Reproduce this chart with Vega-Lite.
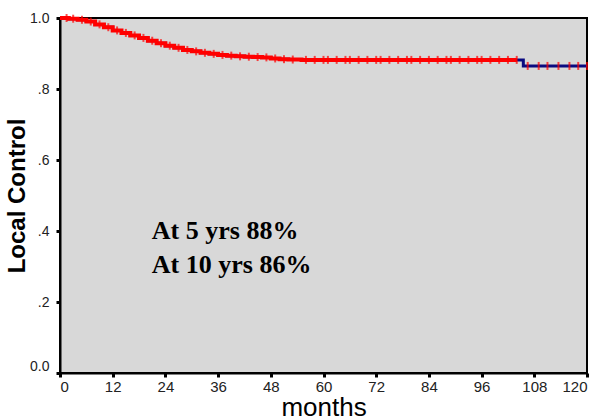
{
  "$schema": "https://vega.github.io/schema/vega-lite/v6.json",
  "width": 527,
  "height": 355,
  "autosize": {"type": "none"},
  "padding": {"left": 60, "top": 18, "right": 16, "bottom": 47},
  "background": "white",
  "config": {
    "view": {"fill": "#d8d8d8", "stroke": "black", "strokeWidth": 2},
    "font": "Liberation Sans"
  },
  "datasets": {
    "km": [
      {"month": 0, "surv": 1.0, "c": 0},
      {"month": 1.5, "surv": 1.0, "c": 1},
      {"month": 2, "surv": 0.998, "c": 0},
      {"month": 3, "surv": 0.998, "c": 1},
      {"month": 4, "surv": 0.995, "c": 0},
      {"month": 5, "surv": 0.995, "c": 1},
      {"month": 6, "surv": 0.99, "c": 0},
      {"month": 7, "surv": 0.99, "c": 1},
      {"month": 8, "surv": 0.982, "c": 0},
      {"month": 9, "surv": 0.982, "c": 1},
      {"month": 10, "surv": 0.974, "c": 0},
      {"month": 11, "surv": 0.974, "c": 1},
      {"month": 12, "surv": 0.965, "c": 0},
      {"month": 13, "surv": 0.965, "c": 1},
      {"month": 14, "surv": 0.958, "c": 0},
      {"month": 15, "surv": 0.958, "c": 1},
      {"month": 16, "surv": 0.951, "c": 0},
      {"month": 17, "surv": 0.951, "c": 1},
      {"month": 18, "surv": 0.944, "c": 0},
      {"month": 19, "surv": 0.944, "c": 1},
      {"month": 20, "surv": 0.936, "c": 0},
      {"month": 21, "surv": 0.936, "c": 1},
      {"month": 22, "surv": 0.929, "c": 0},
      {"month": 23, "surv": 0.929, "c": 1},
      {"month": 24, "surv": 0.922, "c": 0},
      {"month": 25, "surv": 0.922, "c": 1},
      {"month": 26, "surv": 0.916, "c": 0},
      {"month": 27, "surv": 0.916, "c": 1},
      {"month": 28, "surv": 0.91, "c": 0},
      {"month": 29, "surv": 0.91, "c": 1},
      {"month": 30, "surv": 0.906, "c": 0},
      {"month": 31, "surv": 0.906, "c": 1},
      {"month": 32, "surv": 0.902, "c": 0},
      {"month": 33, "surv": 0.902, "c": 1},
      {"month": 34, "surv": 0.899, "c": 0},
      {"month": 35, "surv": 0.899, "c": 1},
      {"month": 36, "surv": 0.896, "c": 0},
      {"month": 37, "surv": 0.896, "c": 1},
      {"month": 38, "surv": 0.894, "c": 0},
      {"month": 39, "surv": 0.894, "c": 1},
      {"month": 40, "surv": 0.892, "c": 0},
      {"month": 41, "surv": 0.892, "c": 1},
      {"month": 42, "surv": 0.891, "c": 0},
      {"month": 43, "surv": 0.891, "c": 1},
      {"month": 44, "surv": 0.89, "c": 0},
      {"month": 45, "surv": 0.89, "c": 1},
      {"month": 46, "surv": 0.889, "c": 0},
      {"month": 47, "surv": 0.889, "c": 1},
      {"month": 48, "surv": 0.886, "c": 0},
      {"month": 49, "surv": 0.886, "c": 1},
      {"month": 50, "surv": 0.884, "c": 0},
      {"month": 51, "surv": 0.884, "c": 1},
      {"month": 52, "surv": 0.883, "c": 0},
      {"month": 53, "surv": 0.883, "c": 1},
      {"month": 55, "surv": 0.882, "c": 0},
      {"month": 56, "surv": 0.882, "c": 1},
      {"month": 58, "surv": 0.882, "c": 1},
      {"month": 60, "surv": 0.882, "c": 1},
      {"month": 61, "surv": 0.882, "c": 1},
      {"month": 63, "surv": 0.882, "c": 1},
      {"month": 65, "surv": 0.882, "c": 1},
      {"month": 66, "surv": 0.882, "c": 1},
      {"month": 68, "surv": 0.882, "c": 1},
      {"month": 70, "surv": 0.882, "c": 1},
      {"month": 72, "surv": 0.882, "c": 1},
      {"month": 73, "surv": 0.882, "c": 1},
      {"month": 75, "surv": 0.882, "c": 1},
      {"month": 77, "surv": 0.882, "c": 1},
      {"month": 79, "surv": 0.882, "c": 1},
      {"month": 80, "surv": 0.882, "c": 1},
      {"month": 82, "surv": 0.882, "c": 1},
      {"month": 84, "surv": 0.882, "c": 1},
      {"month": 86, "surv": 0.882, "c": 1},
      {"month": 88, "surv": 0.882, "c": 1},
      {"month": 89, "surv": 0.882, "c": 1},
      {"month": 91, "surv": 0.882, "c": 1},
      {"month": 93, "surv": 0.882, "c": 1},
      {"month": 95, "surv": 0.882, "c": 1},
      {"month": 96, "surv": 0.882, "c": 1},
      {"month": 98, "surv": 0.882, "c": 1},
      {"month": 100, "surv": 0.882, "c": 1},
      {"month": 102, "surv": 0.882, "c": 1},
      {"month": 104, "surv": 0.882, "c": 1},
      {"month": 105.5, "surv": 0.865, "c": 0},
      {"month": 106.5, "surv": 0.865, "c": 1},
      {"month": 109, "surv": 0.865, "c": 1},
      {"month": 111, "surv": 0.865, "c": 1},
      {"month": 113.5, "surv": 0.865, "c": 1},
      {"month": 116, "surv": 0.865, "c": 1},
      {"month": 118, "surv": 0.865, "c": 1},
      {"month": 120, "surv": 0.865, "c": 1}
    ],
    "notes": [
      {"month": 20.9, "surv": 0.4, "label": "At 5 yrs 88%"},
      {"month": 20.9, "surv": 0.304, "label": "At 10 yrs 86%"}
    ]
  },
  "encoding": {
    "x": {
      "field": "month", "type": "quantitative",
      "scale": {"domain": [0, 120], "nice": false, "zero": false},
      "axis": {
        "values": [0, 12, 24, 36, 48, 60, 72, 84, 96, 108, 120],
        "title": "months", "titleFontSize": 26, "titleFontWeight": "normal",
        "titleColor": "black", "titleFont": "Liberation Sans", "titlePadding": 0,
        "labelFontSize": 15, "labelColor": "#222", "labelPadding": 2,
        "tickSize": 4, "tickWidth": 3, "tickColor": "black",
        "domainColor": "black", "domainWidth": 2, "grid": false
      }
    },
    "y": {
      "field": "surv", "type": "quantitative",
      "scale": {"domain": [0, 1], "nice": false},
      "axis": {
        "values": [0, 0.2, 0.4, 0.6, 0.8, 1.0],
        "labelExpr": "datum.value == 1 ? '1.0' : datum.value == 0 ? '0.0' : replace(format(datum.value, '.1f'), '0.', '.')",
        "labelBaseline": {"condition": {"test": "datum.value == 0", "value": "bottom"}, "value": "middle"},
        "title": "Local Control", "titleFontSize": 24, "titleFontWeight": "bold",
        "titleColor": "black", "titlePadding": 0,
        "labelFontSize": 14, "labelColor": "#222", "labelPadding": 7,
        "tickSize": 4, "tickWidth": 3, "tickColor": "black",
        "domainColor": "black", "domainWidth": 2, "grid": false
      }
    }
  },
  "layer": [
    {
      "data": {"name": "km"},
      "mark": {"type": "line", "interpolate": "step-after", "color": "#0a0a80", "strokeWidth": 3}
    },
    {
      "data": {"name": "km"},
      "transform": [{"filter": {"field": "month", "lte": 104}}],
      "mark": {"type": "line", "interpolate": "step-after", "color": "#ff0000", "strokeWidth": 4}
    },
    {
      "data": {"name": "km"},
      "transform": [{"filter": "datum.c == 1"}],
      "mark": {"type": "tick", "orient": "vertical", "color": "#ff0000", "size": 8, "thickness": 2}
    },
    {
      "data": {"name": "notes"},
      "mark": {"type": "text", "align": "left", "baseline": "middle", "font": "Liberation Serif", "fontSize": 26, "fontWeight": "bold", "color": "black"},
      "encoding": {"text": {"field": "label"}}
    }
  ]
}
